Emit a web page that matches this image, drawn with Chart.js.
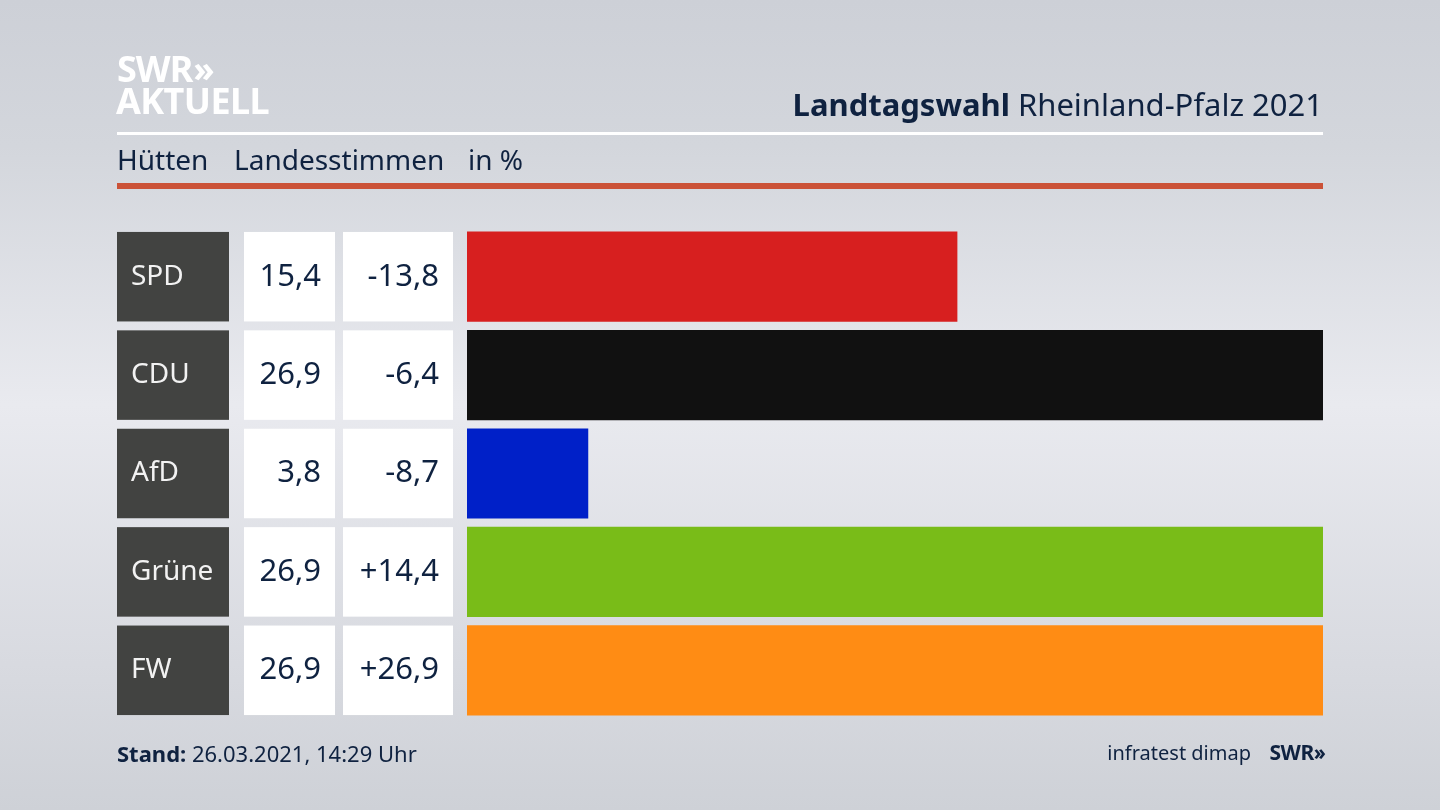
<!DOCTYPE html>
<html lang="de">
<head>
<meta charset="utf-8">
<title>Landtagswahl Rheinland-Pfalz 2021</title>
<script src="https://cdn.jsdelivr.net/npm/chart.js@4"></script>
<style>
  html, body { margin: 0; padding: 0; }
  body {
    width: 1440px; height: 810px; overflow: hidden; position: relative;
    background: linear-gradient(180deg, #cdd0d7 0%, #d3d6dc 18%, #e9eaef 50%, #d8dae0 82%, #ced1d7 100%);
    font-family: "Noto Sans", sans-serif; color: #0f2240;
  }
  canvas { position: absolute; left: 0; top: 0; }
  .t { position: absolute; white-space: nowrap; line-height: 1; }
  .rule { position: absolute; left: 117px; width: 1206px; }
  b { font-weight: 700; }
</style>
</head>
<body>
<canvas id="chart" width="1440" height="810"></canvas>

<div class="t" style="left:117px;top:51px;font-size:36px;font-weight:700;color:#fff;letter-spacing:-1px">SWR<span style="letter-spacing:-5px;margin-left:1px">››</span></div>
<div class="t" style="left:116px;top:83px;font-size:36px;font-weight:700;color:#fff;letter-spacing:-.6px">AKTUELL</div>
<div class="t" style="right:117px;top:89px;font-size:31px"><b>Landtagswahl</b> Rheinland-Pfalz 2021</div>
<div class="rule" style="top:132px;height:3px;background:#fff"></div>
<div class="t" style="left:117px;top:145px;font-size:28px">Hütten</div>
<div class="t" style="left:234px;top:145px;font-size:28px">Landesstimmen</div>
<div class="t" style="left:468px;top:145px;font-size:28px">in %</div>
<div class="rule" style="top:183px;height:6px;background:#cb5238"></div>
<div class="t" style="left:117px;top:742px;font-size:22px"><b>Stand:</b> 26.03.2021, 14:29 Uhr</div>
<div class="t" style="right:189px;top:743px;font-size:20px">infratest dimap</div>
<div class="t" style="right:117px;top:742px;font-size:21px;font-weight:700;letter-spacing:-.5px">SWR<span style="letter-spacing:-3px">››</span></div>

<script>
const parties = ['SPD', 'CDU', 'AfD', 'Grüne', 'FW'];
const votes = [15.4, 26.9, 3.8, 26.9, 26.9];
const changes = [-13.8, -6.4, -8.7, 14.4, 26.9];
const barColors = ['#d71f1f', '#111111', '#0020c8', '#79bc18', '#ff8c14'];

const fmt = (v) => v.toFixed(1).replace('.', ',');
const fmtChange = (v) => (v > 0 ? '+' : '') + fmt(v);

// left hand table, one row per party, follows the y scale
const rowCells = {
  id: 'rowCells',
  afterDatasetsDraw(chart) {
    const { ctx, scales: { y } } = chart;
    const h = 89.5;
    parties.forEach((name, i) => {
      const mid = y.getPixelForValue(i);
      const top = mid - h / 2;
      ctx.save();
      ctx.fillStyle = '#424341';
      ctx.fillRect(117, top, 112, h);
      ctx.fillStyle = '#ffffff';
      ctx.fillRect(244, top, 91, h);
      ctx.fillRect(343, top, 110, h);
      ctx.textBaseline = 'middle';
      ctx.font = '28px "Noto Sans"';
      ctx.textAlign = 'left';
      ctx.fillStyle = '#f2f2f2';
      ctx.fillText(name, 131, mid);
      ctx.font = '31px "Noto Sans"';
      ctx.textAlign = 'right';
      ctx.fillStyle = '#0f2240';
      ctx.fillText(fmt(votes[i]), 321, mid);
      ctx.fillText(fmtChange(changes[i]), 439, mid);
      ctx.restore();
    });
  }
};

new Chart(document.getElementById('chart'), {
  type: 'bar',
  plugins: [rowCells],
  data: {
    labels: parties,
    datasets: [{
      data: votes,
      backgroundColor: barColors,
      borderWidth: 0,
      barThickness: 89.5
    }]
  },
  options: {
    indexAxis: 'y',
    responsive: false,
    animation: false,
    devicePixelRatio: 1,
    layout: { padding: { left: 467, right: 117, top: 227.5, bottom: 90.5 } },
    plugins: { legend: { display: false }, tooltip: { enabled: false } },
    scales: {
      x: { display: false, min: 0, max: 26.9 },
      y: { display: false }
    }
  }
});
</script>
</body>
</html>
